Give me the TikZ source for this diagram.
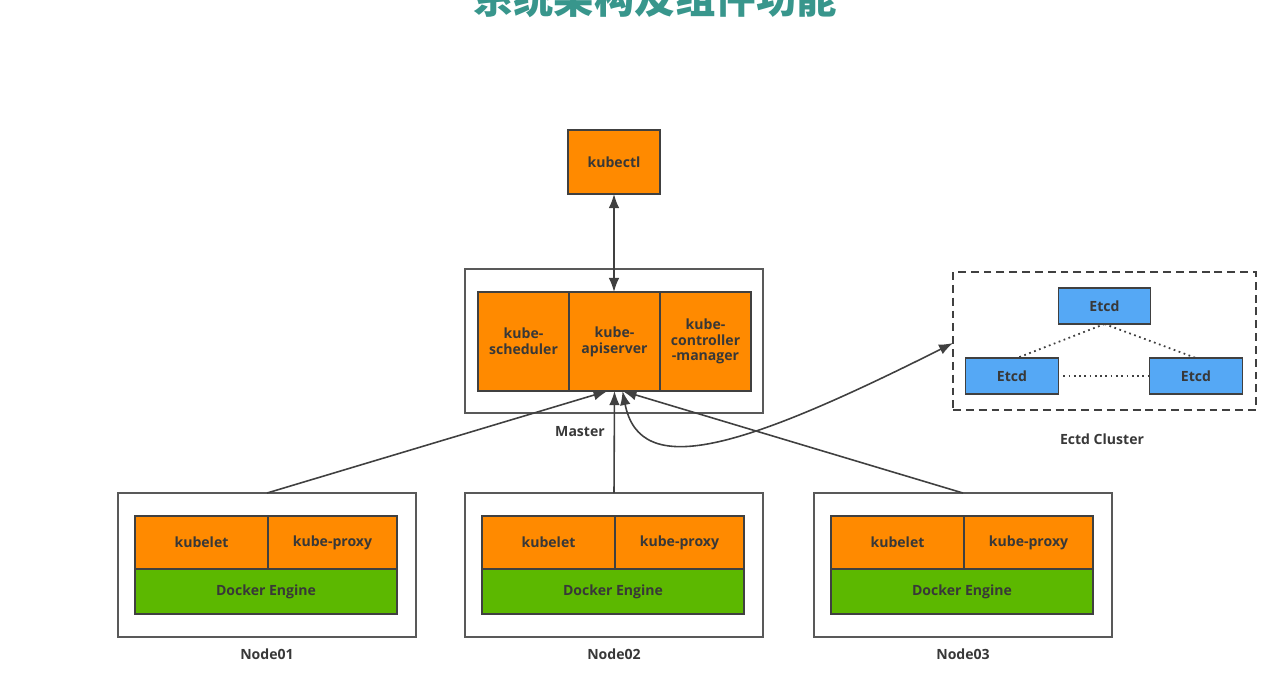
\documentclass[tikz,border=0pt]{standalone}
\usepackage{fontspec}
\setmainfont{Open Sans}
\newfontfamily\cjk{Noto Sans CJK SC}
\usetikzlibrary{arrows.meta}
\begin{document}
\begin{tikzpicture}[x=0.02cm,y=-0.02cm,
  every node/.style={outer sep=0pt, inner sep=1pt, align=center, text=black!78, font=\fontsize{8}{9}\selectfont\bfseries},
  orangebox/.style={draw=black!75, line width=0.7pt, fill={rgb,255:red,255;green,138;blue,0}},
  greenbox/.style={draw=black!75, line width=0.7pt, fill={rgb,255:red,92;green,184;blue,0}},
  bluebox/.style={draw=black!75, line width=0.7pt, fill={rgb,255:red,85;green,168;blue,245}, minimum width=1.85cm, minimum height=0.72cm},
  hostbox/.style={draw=black!65, line width=1pt, minimum width=5.96cm, minimum height=2.88cm},
  link/.style={draw=black!75, line width=0.9pt, {Latex[length=8pt,width=6pt]}-{Latex[length=8pt,width=6pt]}},
  uplink/.style={draw=black!75, line width=0.9pt, -{Latex[length=8pt,width=6pt]}}]
\useasboundingbox (0,0) rectangle (1284,681);
\node[text={rgb,255:red,56;green,150;blue,140}, font=\cjk\fontsize{23}{25}\selectfont\bfseries] (title) at (655,-2) {系统架构及组件功能};
% client
\node[orangebox, minimum width=1.84cm, minimum height=1.28cm] (kubectl) at (614,162) {kubectl};
% master
\node[hostbox] (master) at (614,341) {};
\node[orangebox, minimum width=1.82cm, minimum height=1.98cm] (sched) at (523.5,341.5) {kube-\\scheduler};
\node[orangebox, minimum width=1.82cm, minimum height=1.98cm] (api) at (614.5,341.5) {kube-\\apiserver};
\node[orangebox, minimum width=1.82cm, minimum height=1.98cm] (ctrl) at (705.5,341.5) {kube-\\controller\\-manager};
\node (masterlabel) at (580,432) {Master};
% etcd cluster
\node[draw=black!75, line width=1pt, dash pattern=on 4.5pt off 2.8pt, minimum width=6.06cm, minimum height=2.76cm] (etcdcl) at (1104.5,341) {};
\node[bluebox] (etcd1) at (1104.5,306) {Etcd};
\node[bluebox] (etcd2) at (1012,376) {Etcd};
\node[bluebox] (etcd3) at (1196,376) {Etcd};
\node (etcdlabel) at (1102,439) {Ectd Cluster};
\draw[black!75, line width=1pt, dotted] (etcd1.south) -- ([xshift=0.1cm]etcd2.north);
\draw[black!75, line width=1pt, dotted] (etcd1.south) -- (etcd3.north);
\draw[black!75, line width=1pt, dotted] ([xshift=0.1cm]etcd2.east) -- (etcd3.west);
% worker nodes
\node[hostbox] (n1) at (267,565) {};
\node[orangebox, minimum width=2.66cm, minimum height=1.06cm] (n1let) at (201.5,542.5) {kubelet};
\node[orangebox, minimum width=2.58cm, minimum height=1.06cm] (n1proxy) at (332.5,542.5) {kube-proxy};
\node[greenbox, minimum width=5.24cm, minimum height=0.9cm] (n1dock) at (266,591.5) {Docker Engine};
\node (n1label) at (267,654) {Node01};
\node[hostbox] (n2) at (614,565) {};
\node[orangebox, minimum width=2.66cm, minimum height=1.06cm] (n2let) at (548.5,542.5) {kubelet};
\node[orangebox, minimum width=2.58cm, minimum height=1.06cm] (n2proxy) at (679.5,542.5) {kube-proxy};
\node[greenbox, minimum width=5.24cm, minimum height=0.9cm] (n2dock) at (613,591.5) {Docker Engine};
\node (n2label) at (614,654) {Node02};
\node[hostbox] (n3) at (963,565) {};
\node[orangebox, minimum width=2.66cm, minimum height=1.06cm] (n3let) at (897.5,542.5) {kubelet};
\node[orangebox, minimum width=2.58cm, minimum height=1.06cm] (n3proxy) at (1028.5,542.5) {kube-proxy};
\node[greenbox, minimum width=5.24cm, minimum height=0.9cm] (n3dock) at (962,591.5) {Docker Engine};
\node (n3label) at (963,654) {Node03};
% connectors
\draw[link] (kubectl.south) -- (kubectl.south |- api.north);
\draw[uplink] (n1.north) -- ([xshift=-0.14cm]api.south);
\draw[uplink] (n2.north) -- (api.south);
\draw[uplink] (n3.north) -- ([xshift=0.16cm]api.south);
\draw[link] ([xshift=0.16cm]api.south) .. controls (640,480) and (740,450) .. ([yshift=-0.04cm]etcdcl.west);
\end{tikzpicture}
\end{document}
